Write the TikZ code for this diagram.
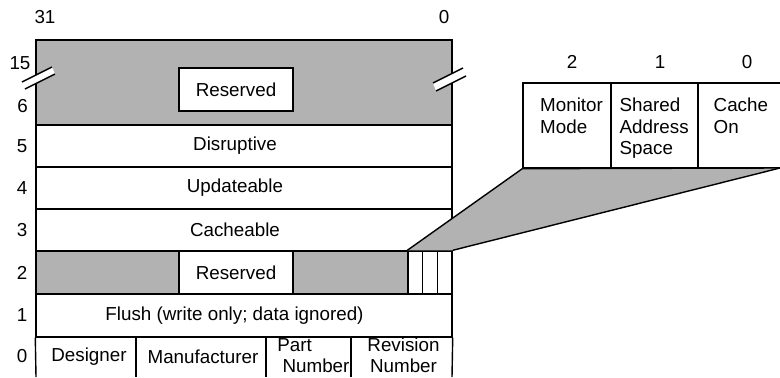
\documentclass[tikz,border=0pt]{standalone}
\usepackage{fontspec}
\setmainfont{Liberation Sans}
\begin{document}
\begin{tikzpicture}[x=1bp,y=-1bp,
  font=\fontsize{18.8bp}{21.5bp}\selectfont,
  line width=1.4bp,
  cell/.style={draw, inner sep=0pt, minimum height=42bp},
  shaded/.style={fill=black!30},
  txt/.style={inner sep=0pt},
  ftxt/.style={inner sep=0pt, anchor=north west, align=left}]
\useasboundingbox (0,0) rectangle (780,377);

% top reserved area (bits 15..6)
\node[cell, shaded, minimum width=416bp, minimum height=85bp] (top) at (244,82.5) {};
\node[cell, fill=white, minimum width=114bp, minimum height=43bp] (resA) at (236,89.5) {Reserved};

% break marks
\fill[white] (22,82) -- (52,67) -- (55,74) -- (25,89) -- cycle;
\draw (22,82) -- (52,67);
\draw (25,89) -- (55,74);
\fill[white] (433,83) -- (463,68) -- (466,76) -- (436,91) -- cycle;
\draw (433,83) -- (463,68);
\draw (436,91) -- (466,76);

% rows 5..3
\node[cell, minimum width=416bp] (disr) at (244,146) {};
\node[cell, minimum width=416bp] (upd) at (244,188) {};
\node[cell, minimum width=416bp] (cach) at (244,230) {};
\node[txt] (disrt) at (235,146) {Disruptive};
\node[txt] (updt) at (235,188) {Updateable};
\node[txt] (cacht) at (235,230) {Cacheable};

% row 2
\node[cell, shaded, minimum width=143bp, minimum height=43bp] (r2l) at (107.5,272.5) {};
\node[cell, minimum width=114bp, minimum height=43bp] (resB) at (236,272.5) {Reserved};
\node[cell, shaded, minimum width=115bp, minimum height=43bp] (r2r) at (350.5,272.5) {};
\node[cell, minimum width=14.67bp, minimum height=43bp] (b2) at (415.33,272.5) {};
\node[cell, minimum width=14.67bp, minimum height=43bp] (b1) at (430,272.5) {};
\node[cell, minimum width=14.67bp, minimum height=43bp] (b0) at (444.67,272.5) {};

% row 1
\node[cell, minimum width=416bp, minimum height=43bp] (flush) at (244,315.5) {};
\node[txt] (flusht) at (234.5,315.5) {Flush (write only; data ignored)};

% row 0 (open at the bottom)
\coordinate (z0) at (36,377);
\coordinate (z1) at (136,377);
\coordinate (z2) at (266,377);
\coordinate (z3) at (351,377);
\coordinate (z4) at (452,377);
\draw (flush.south west) -- (z0);
\draw (flush.south east) -- (z4);
\draw (z1 |- flush.south) -- (z1);
\draw (z2 |- flush.south) -- (z2);
\draw (z3 |- flush.south) -- (z3);
\node[txt] (des) at (89,356.5) {Designer};
\node[txt] (man) at (203,356.5) {Manufacturer};
\node[txt] (pa) at (294.5,345) {Part};
\node[txt] (pb) at (316,366) {Number};
\node[txt, align=center] (rn) at (403.5,355.5) {Revision\\Number};

% left labels
\node[txt] (l31) at (45,17) {31};
\node[txt] (l0top) at (444,17) {0};
\node[txt] (l15) at (20,63) {15};
\node[txt] (l6) at (22.5,106) {6};
\node[txt] (l5) at (22,146) {5};
\node[txt] (l4) at (22,188) {4};
\node[txt] (l3) at (22,230) {3};
\node[txt] (l2) at (22,272.5) {2};
\node[txt] (l1) at (22,315.5) {1};
\node[txt] (l0) at (22,356.5) {0};

% expanded bits 2..0
\node[cell, minimum width=88bp, minimum height=85bp] (mm) at (567,125.5) {};
\node[cell, minimum width=87bp, minimum height=85bp] (sas) at (654.5,125.5) {};
\node[cell, minimum width=84bp, minimum height=85bp] (co) at (740,125.5) {};
\node[ftxt] (mmt) at (539.5,97.5) {Monitor\\Mode};
\node[ftxt] (sast) at (619,97.5) {Shared\\Address\\Space};
\node[ftxt] (cot) at (713,97.5) {Cache\\On};
\node[txt] (n2) at (572,62) {2};
\node[txt] (n1) at (660,62) {1};
\node[txt] (n0) at (747,62) {0};

% zoom trapezoid
\fill[shaded] (mm.south west) -- (780,168) -- (b0.north east) -- (b2.north west) -- cycle;
\draw (mm.south west) -- (b2.north west);
\draw (780,168) -- (b0.north east);
\draw (mm.south west) -- (780,168);
\end{tikzpicture}
\end{document}
